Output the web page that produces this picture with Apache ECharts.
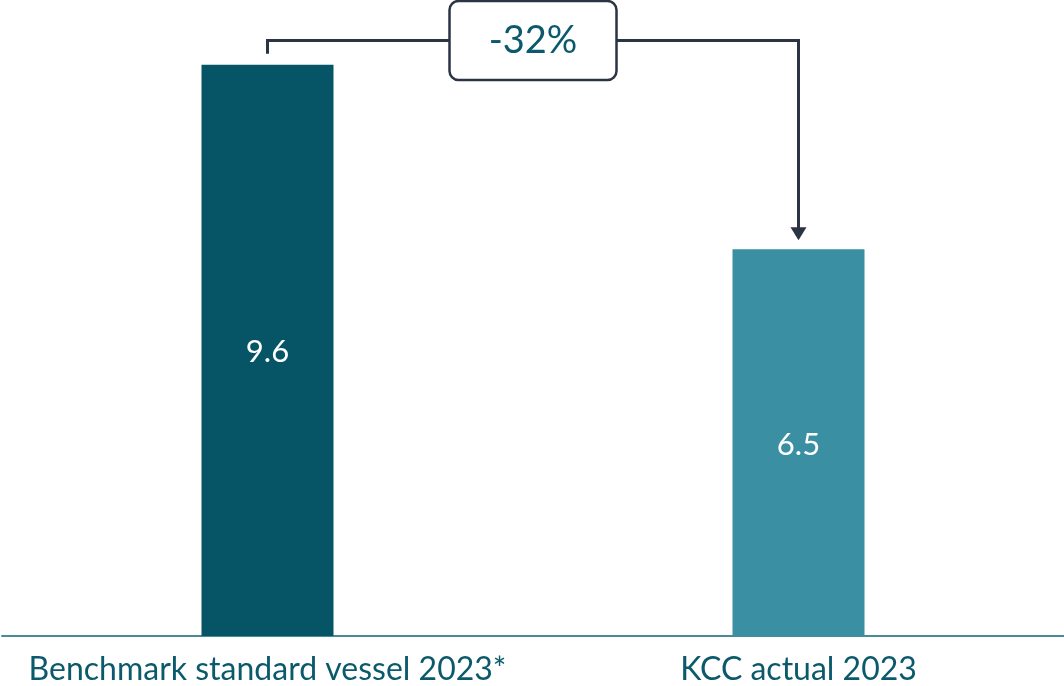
<!DOCTYPE html>
<html>
<head>
<meta charset="utf-8">
<script src="https://cdn.jsdelivr.net/npm/echarts@6/dist/echarts.min.js"></script>
<style>
  html, body { margin: 0; padding: 0; background: #ffffff; }
  #chart { width: 1064px; height: 686px; }
</style>
</head>
<body>
<div id="chart"></div>
<script>
// Emissions comparison: benchmark vessel vs. actual
const categories = ['Benchmark standard vessel 2023*', 'KCC actual 2023'];
const values = [9.6, 6.5];
const barColors = ['#065567', '#3a8fa2'];
const changeLabel = '-32%';
const bracketLevel = 10; // value level the comparison bracket runs at

const FONT = 'Lato, "Source Sans Pro", "Noto Sans", sans-serif';
const INK = '#2b3443';
const TEXT = '#0b5a6b';

const chart = echarts.init(document.getElementById('chart'), null, { renderer: 'canvas' });

chart.setOption({
  animation: false,
  backgroundColor: '#ffffff',
  grid: { left: 2, width: 1064, top: 41, bottom: 50, containLabel: false },
  xAxis: {
    type: 'category',
    data: categories,
    axisLine: { show: true, lineStyle: { color: '#4d8a97', width: 2 } },
    axisTick: { show: false },
    axisLabel: {
      color: TEXT, fontFamily: FONT, fontSize: 32, margin: 18,
      interval: 0
    }
  },
  yAxis: {
    type: 'value', min: 0, max: 10,
    show: false,
    splitLine: { show: false }
  },
  series: [{
    type: 'bar',
    barWidth: 132,
    data: values.map((v, i) => ({ value: v, itemStyle: { color: barColors[i] } })),
    label: {
      show: true, position: 'inside', color: '#ffffff',
      fontFamily: FONT, fontSize: 31, offset: [0, 2],
      formatter: p => p.value.toFixed(1)
    }
  }]
});

// Comparison bracket with percentage box, placed from the axis scales
function drawBracket() {
  const px = (i, v) => chart.convertToPixel({ xAxisIndex: 0, yAxisIndex: 0 }, [i, v]);
  const a = px(0, bracketLevel);
  const b = px(1, bracketLevel);
  const aTop = px(0, values[0]);
  const bTop = px(1, values[1]);
  const y = a[1] - 0.5;
  const midX = (a[0] + b[0]) / 2;
  const boxW = 167, boxH = 79;
  const tipY = bTop[1] - 9;
  const headH = 13, headW = 8;

  chart.setOption({
    graphic: [
      {
        type: 'polyline', silent: true,
        shape: { points: [[a[0], aTop[1] - 11], [a[0], y], [midX - boxW / 2, y]] },
        style: { stroke: INK, lineWidth: 3, fill: null, lineJoin: 'miter' }
      },
      {
        type: 'polyline', silent: true,
        shape: { points: [[midX + boxW / 2, y], [b[0], y], [b[0], tipY - headH + 1]] },
        style: { stroke: INK, lineWidth: 3, fill: null, lineJoin: 'miter' }
      },
      {
        type: 'polygon', silent: true,
        shape: { points: [[b[0] - headW, tipY - headH], [b[0] + headW, tipY - headH], [b[0], tipY]] },
        style: { fill: INK }
      },
      {
        type: 'rect', silent: true,
        shape: { x: midX - boxW / 2, y: y - boxH / 2, width: boxW, height: boxH, r: 9 },
        style: { fill: '#ffffff', stroke: INK, lineWidth: 2.5 }
      },
      {
        type: 'text', silent: true,
        x: midX, y: y,
        style: {
          text: changeLabel, fill: TEXT, font: '38px ' + FONT,
          align: 'center', verticalAlign: 'middle'
        }
      }
    ]
  });
}
drawBracket();
</script>
</body>
</html>
